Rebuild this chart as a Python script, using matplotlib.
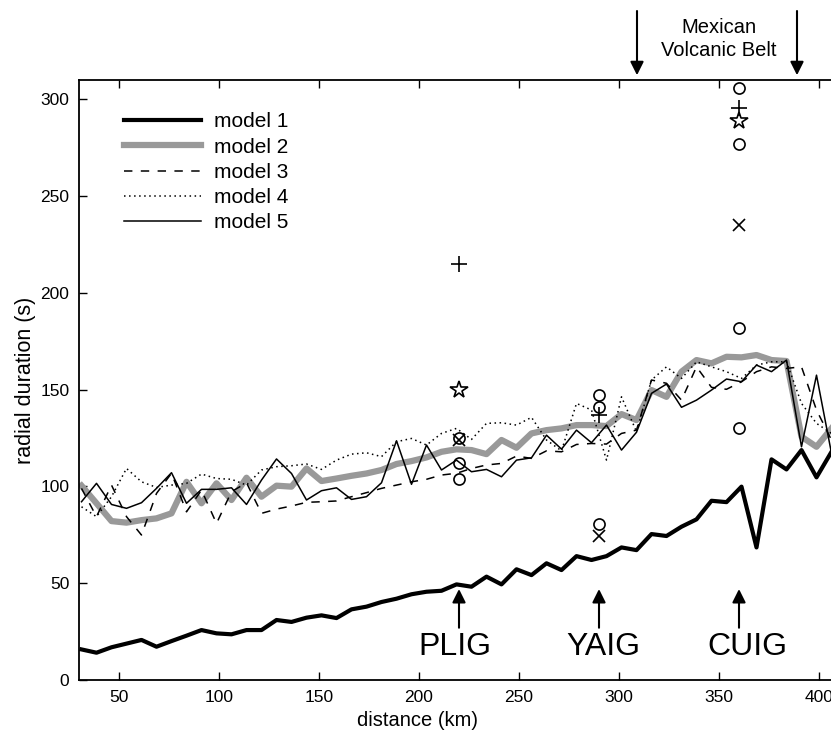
import numpy as np
import matplotlib
matplotlib.use('Agg')
import matplotlib.pyplot as plt

plt.rcParams['font.family'] = ['Liberation Sans', 'DejaVu Sans']

# distance grid (km), one sample every 7.5 km
dist = np.arange(31.25, 407, 7.5)

model1 = [15.8, 14.1, 16.9, 18.8, 20.7, 17.2, 20.1, 22.9, 25.8, 24.1,
          23.6, 25.8, 25.8, 31.0, 30.0, 32.2, 33.4, 32.0, 36.5, 37.9,
          40.3, 42.0, 44.3, 45.6, 46.1, 49.4, 48.2, 53.4, 49.4, 57.2,
          54.2, 60.3, 56.8, 64.0, 62.0, 64.0, 68.5, 67.1, 75.4, 74.4,
          79.2, 83.0, 92.6, 91.9, 99.9, 68.5, 114.0, 108.8, 118.8, 104.7,
          117.9]
model2 = [100.4, 91.3, 82.1, 81.3, 82.6, 83.5, 86.1, 102.4, 91.3, 101.6,
          93.0, 104.5, 94.7, 100.4, 99.9, 109.3, 102.8, 104.1, 105.5, 106.7,
          108.5, 111.6, 113.1, 115.0, 117.9, 119.2, 118.8, 116.7, 124.0, 120.0,
          127.4, 129.1, 130.0, 131.7, 131.7, 131.2, 137.4, 134.3, 149.8, 146.3,
          159.3, 165.3, 163.6, 167.0, 166.7, 167.9, 165.3, 164.8, 125.7, 120.5,
          130.0]
model3 = [99.0, 84.4, 100.7, 84.4, 74.9, 96.4, 106.8, 86.9, 98.1, 80.9,
          97.3, 101.9, 86.1, 88.3, 89.9, 91.8, 92.1, 92.5, 94.7, 96.8,
          99.0, 100.7, 102.4, 103.7, 105.9, 106.8, 109.3, 111.1, 111.9, 115.7,
          114.5, 118.4, 117.9, 121.7, 122.2, 121.9, 127.4, 129.1, 155.0, 153.3,
          144.6, 161.8, 151.2, 150.2, 154.1, 159.3, 161.8, 161.0, 161.8, 139.5,
          124.0]
model4 = [89.5, 84.4, 94.7, 109.3, 102.4, 99.5, 100.7, 101.6, 106.4, 104.1,
          103.7, 100.7, 108.5, 110.2, 110.7, 111.6, 108.8, 113.6, 116.7, 117.4,
          115.4, 123.1, 124.8, 121.4, 127.4, 130.0, 124.3, 132.6, 132.9, 131.7,
          135.7, 124.0, 118.4, 142.9, 139.5, 113.6, 146.3, 128.3, 155.0, 161.8,
          155.8, 164.4, 161.8, 159.3, 155.8, 162.7, 164.4, 164.4, 142.9, 132.6,
          127.4]
model5 = [92.1, 101.6, 90.7, 88.7, 91.6, 99.0, 107.1, 91.3, 98.5, 98.5,
          99.3, 90.7, 103.3, 114.2, 106.7, 93.0, 97.8, 99.3, 93.3, 94.7,
          101.9, 123.6, 101.1, 121.4, 108.5, 113.6, 107.6, 108.8, 105.0, 113.6,
          114.8, 126.5, 119.3, 129.1, 122.6, 131.7, 118.8, 128.0, 148.1, 152.9,
          140.9, 144.6, 149.8, 155.5, 154.1, 162.7, 159.3, 165.3, 120.5, 157.5,
          117.1]

# station measurements
stations = ['PLIG', 'YAIG', 'CUIG']
station_dist = [220, 290, 360]
circle_x = [220, 220, 220, 290, 290, 290, 360, 360, 360, 360]
circle_y = [125, 112, 104, 147, 141, 80.5, 306, 277, 182, 130]
plus_x = [220, 290, 360]
plus_y = [215, 137, 295.5]
star_x = [220, 360]
star_y = [150, 289]
cross_x = [220, 290, 360]
cross_y = [124, 74.5, 235]

fig = plt.figure(figsize=(8.31, 7.31), dpi=100)
ax = fig.add_axes([79/831, 51/731, 760/831, 600/731])

ax.plot(dist, model1, color='black', lw=3.0, label='model 1', zorder=3)
ax.plot(dist, model2, color='0.6', lw=4.5, label='model 2', zorder=2)
ax.plot(dist, model3, color='black', lw=1.1, dashes=(5.5, 5.5), label='model 3', zorder=3)
ax.plot(dist, model4, color='black', lw=1.1, dashes=(1, 2.3), label='model 4', zorder=3)
ax.plot(dist, model5, color='black', lw=1.1, label='model 5', zorder=3)

ax.plot(circle_x, circle_y, 'o', ms=8, mfc='none', mec='black', mew=1.2, zorder=4)
ax.plot(plus_x, plus_y, '+', ms=12, mec='black', mew=1.2, zorder=4)
ax.plot(star_x, star_y, '*', ms=13, mfc='none', mec='black', mew=1.2, zorder=4)
ax.plot(cross_x, cross_y, 'x', ms=8, mec='black', mew=1.2, zorder=4)

ax.set_xlim(30, 410)
ax.set_ylim(0, 310)
ax.set_xticks([50, 100, 150, 200, 250, 300, 350, 400])
ax.set_yticks([0, 50, 100, 150, 200, 250, 300])
ax.tick_params(axis='both', direction='in', length=6, width=1, labelsize=12.5,
               top=True, right=False, pad=7)
ax.spines['right'].set_visible(False)
for s in ['left', 'bottom', 'top']:
    ax.spines[s].set_linewidth(1.3)

ax.set_xlabel('distance (km)', fontsize=14.5)
ax.xaxis.set_label_coords(0.445, -0.052)
ax.set_ylabel('radial duration (s)', fontsize=15.5)
ax.yaxis.set_label_coords(-0.057, 0.5)

leg = ax.legend(loc='upper left', bbox_to_anchor=(0.059, 0.946), frameon=False,
                fontsize=15, handlelength=3.7, handletextpad=0.65,
                labelspacing=0.3, borderpad=0, borderaxespad=0)

# station arrows and names
text_x = [218, 292, 364]
for sx, tx, name in zip(station_dist, text_x, stations):
    ax.annotate('', xy=(sx, 47), xytext=(sx, 27),
                arrowprops=dict(arrowstyle='-|>', color='black', lw=1.5,
                                mutation_scale=20, shrinkA=0, shrinkB=0))
    ax.text(tx, 17, name, fontsize=23, ha='center', va='center')

# Mexican Volcanic Belt markers above the axes
for bx in [309, 389]:
    ax.annotate('', xy=(bx, 1.008), xytext=(bx, 1.115),
                xycoords=ax.get_xaxis_transform(),
                textcoords=ax.get_xaxis_transform(),
                arrowprops=dict(arrowstyle='-|>', color='black', lw=1.5,
                                mutation_scale=20, shrinkA=0, shrinkB=0),
                annotation_clip=False)
ax.text(350, 1.068, 'Mexican\nVolcanic Belt', transform=ax.get_xaxis_transform(),
        ha='center', va='center', fontsize=14.5, linespacing=1.25)

fig.savefig('out.png', dpi=100)
